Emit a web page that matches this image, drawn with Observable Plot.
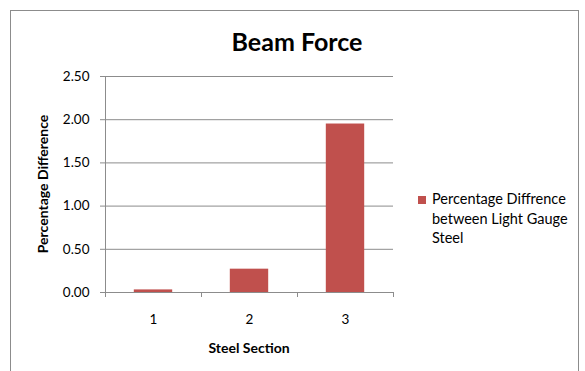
<!DOCTYPE html>
<html>
<head>
<meta charset="utf-8">
<script src="https://cdn.jsdelivr.net/npm/d3@7"></script>
<script src="https://cdn.jsdelivr.net/npm/@observablehq/plot@0.6"></script>
<style>
  html, body { margin: 0; padding: 0; background: #fff; }
  body { width: 585px; height: 371px; overflow: hidden; position: relative; font-family: Lato, "Open Sans", sans-serif; }
  #frame { position: absolute; left: 10px; top: 10px; width: 569px; height: 400px; border: 1px solid #8c8c8c; box-sizing: border-box; }
  #chart { position: absolute; left: 0; top: 0; }
  .title { position: absolute; left: 0; width: 594px; top: 26px; text-align: center; font-weight: bold; font-size: 25px; color: #000; }
  .xtitle { position: absolute; left: 105px; width: 288px; top: 339px; text-align: center; font-weight: bold; font-size: 14px; color: #000; }
  .ytitle { position: absolute; left: 42px; top: 184px; transform: translate(-50%, -50%) rotate(-90deg); white-space: nowrap; font-weight: bold; font-size: 14px; color: #000; }
  .legend { position: absolute; left: 418px; top: 189px; width: 165px; font-size: 14.5px; line-height: 19.5px; color: #000; }
  .legend .sw { position: absolute; left: 0; top: 7px; width: 8px; height: 8px; }
  .legend .lt { margin-left: 14px; }
</style>
</head>
<body>
<div id="frame"></div>
<div id="chart"></div>
<div class="title">Beam Force</div>
<div class="ytitle">Percentage Difference</div>
<div class="xtitle">Steel Section</div>
<div class="legend"><span class="sw"></span><div class="lt"></div></div>
<script>
// Beam force: percentage difference per steel section
const sections = [1, 2, 3];
const values = [0.03, 0.27, 1.95];
const seriesName = "Percentage Diffrence between Light Gauge Steel";
const yTicks = [0, 0.5, 1, 1.5, 2, 2.5];

const barColor = "#c0504d";
const gridColor = "#8c8c8c";
const halfBar = 0.2;

const data = sections.map((s, i) => ({section: s, value: values[i]}));
const sectionEdges = [sections[0] - 0.5, ...sections.map(s => s + 0.5)];

const chart = Plot.plot({
  width: 585,
  height: 371,
  marginLeft: 105,
  marginRight: 192,
  marginTop: 76,
  marginBottom: 79,
  style: {fontFamily: "Lato, 'Open Sans', sans-serif", fontSize: "13.5px", color: "#000", background: "transparent"},
  x: {domain: [sectionEdges[0], sectionEdges[sectionEdges.length - 1]]},
  y: {domain: [0, 2.5]},
  marks: [
    Plot.ruleY(yTicks, {stroke: gridColor, strokeWidth: 1}),
    Plot.ruleX([sectionEdges[0]], {stroke: gridColor, strokeWidth: 1}),
    Plot.rectY(data, {
      x1: d => d.section - halfBar,
      x2: d => d.section + halfBar,
      y1: 0,
      y2: "value",
      fill: barColor
    }),
    Plot.axisY({ticks: yTicks, tickFormat: d3.format(".2f"), tickSize: 5, tickPadding: 11, stroke: gridColor, label: null}),
    Plot.axisX({ticks: sectionEdges, tickFormat: () => "", tickSize: 5, stroke: gridColor, label: null}),
    Plot.axisX({ticks: sections, tickFormat: d3.format("d"), tickSize: 0, tickPadding: 22, label: null})
  ]
});
document.getElementById("chart").appendChild(chart);

document.querySelector(".legend .sw").style.background = barColor;
document.querySelector(".legend .lt").textContent = seriesName;
</script>
</body>
</html>
